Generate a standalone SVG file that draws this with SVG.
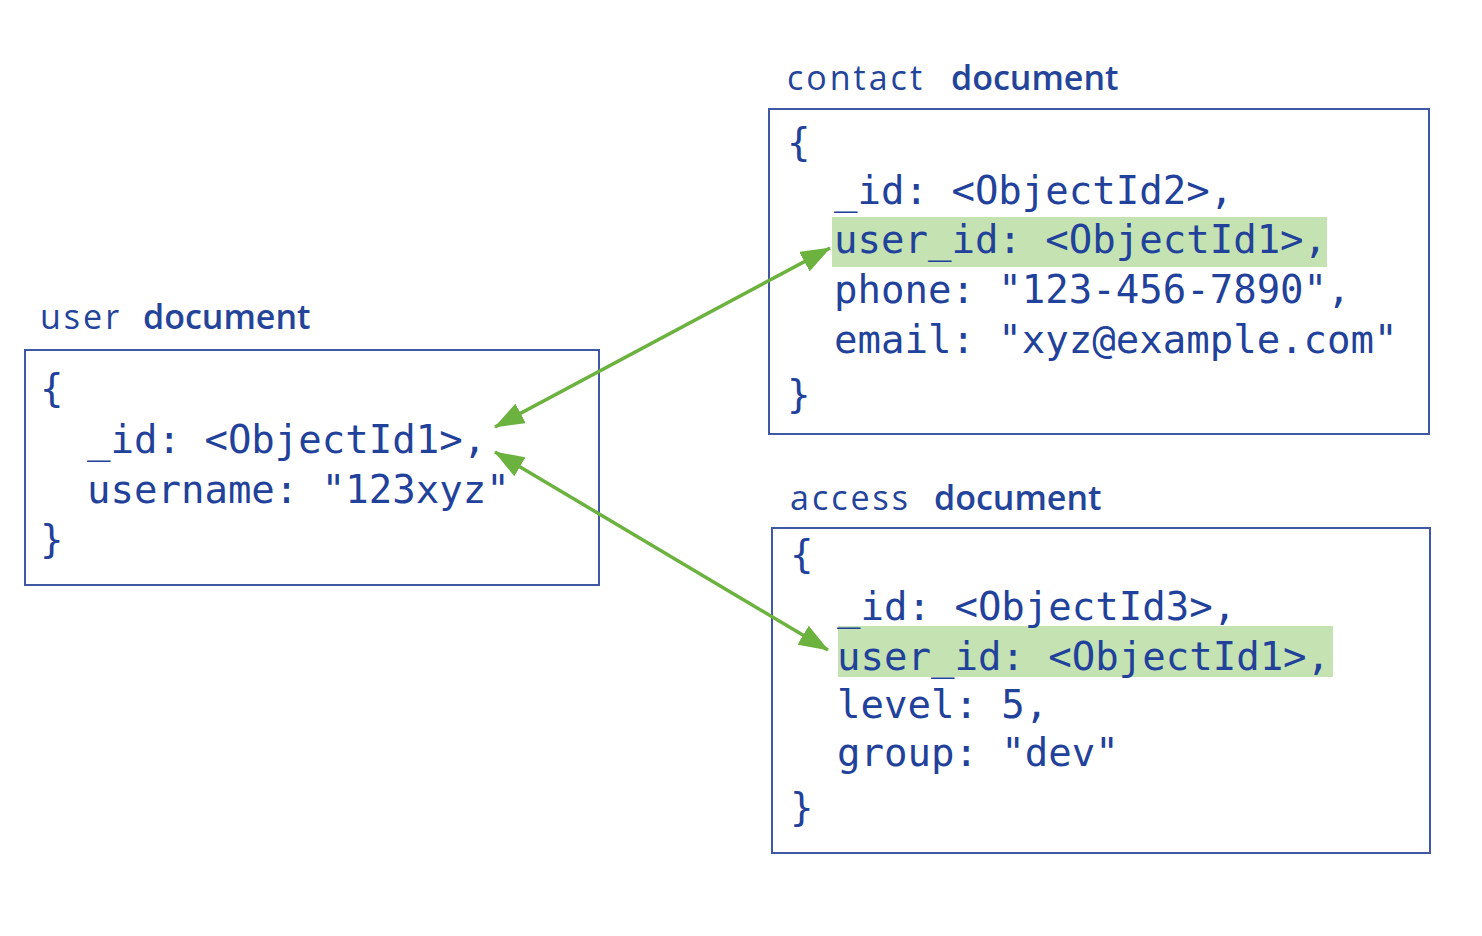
<svg xmlns="http://www.w3.org/2000/svg" width="1482" height="936" viewBox="0 0 1482 936">
<style>
.title{font-family:"Open Sans","Liberation Sans",sans-serif;font-size:34px;fill:#24449a}
.title .r{letter-spacing:3px}
.title .b{font-weight:600}
.code{font-family:"DejaVu Sans Mono","Liberation Mono",monospace;font-size:39px;fill:#21419a}
.box{fill:#fff;stroke:#4057a3;stroke-width:2}
.hl{fill:#c4e2b2}
.conn{stroke:#6cb23f;stroke-width:3.5;fill:none}
</style>
<defs>
<marker id="ah" viewBox="0 0 30 22" refX="29" refY="11" markerWidth="30" markerHeight="22" markerUnits="userSpaceOnUse" orient="auto-start-reverse">
<path d="M0,0 L30,11 L0,22 z" fill="#6cb23f"/>
</marker>
</defs>
<rect width="1482" height="936" fill="#fff"/>
<g id="user">
<text class="title" x="40" y="329"><tspan class="r">user</tspan><tspan class="b" x="143">document</tspan></text>
<rect class="box" x="25" y="350" width="574" height="235"/>
<text class="code" x="40" y="402">{</text>
<text class="code" x="87" y="453">_id: &lt;ObjectId1&gt;,</text>
<text class="code" x="87" y="503">username: "123xyz"</text>
<text class="code" x="40" y="553">}</text>
</g>
<g id="contact">
<text class="title" x="787" y="90"><tspan class="r">contact</tspan><tspan class="b" x="951">document</tspan></text>
<rect class="box" x="769" y="109" width="660" height="325"/>
<rect class="hl" x="832" y="217" width="495" height="50"/>
<text class="code" x="787" y="156">{</text>
<text class="code" x="834" y="204">_id: &lt;ObjectId2&gt;,</text>
<text class="code" x="834" y="253">user_id: &lt;ObjectId1&gt;,</text>
<text class="code" x="834" y="303">phone: "123-456-7890",</text>
<text class="code" x="834" y="353">email: "xyz@example.com"</text>
<text class="code" x="787" y="408">}</text>
</g>
<g id="access">
<text class="title" x="790" y="510"><tspan class="r">access</tspan><tspan class="b" x="934">document</tspan></text>
<rect class="box" x="772" y="528" width="658" height="325"/>
<rect class="hl" x="838" y="626" width="495" height="51"/>
<text class="code" x="790" y="568">{</text>
<text class="code" x="837" y="620">_id: &lt;ObjectId3&gt;,</text>
<text class="code" x="837" y="670">user_id: &lt;ObjectId1&gt;,</text>
<text class="code" x="837" y="718">level: 5,</text>
<text class="code" x="837" y="766">group: "dev"</text>
<text class="code" x="790" y="821">}</text>
</g>
<g id="connectors">
<line class="conn" x1="830" y1="248" x2="495" y2="427" marker-start="url(#ah)" marker-end="url(#ah)"/>
<line class="conn" x1="495" y1="452" x2="828" y2="650" marker-start="url(#ah)" marker-end="url(#ah)"/>
</g>
</svg>
